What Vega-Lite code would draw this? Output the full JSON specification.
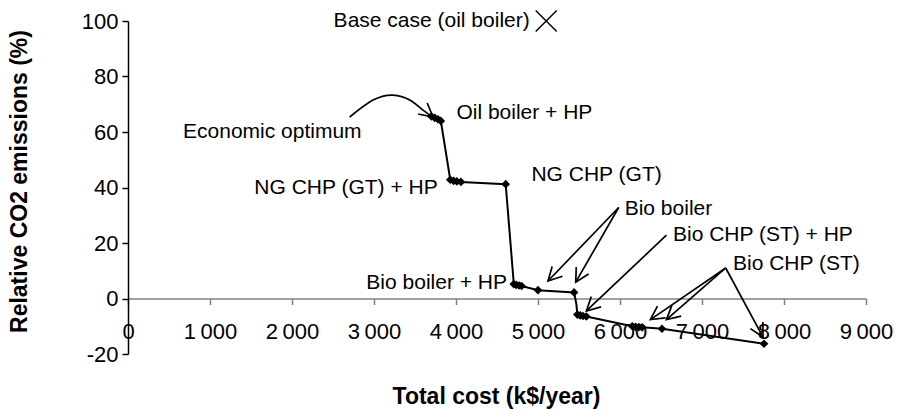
{
  "$schema": "https://vega.github.io/schema/vega-lite/v6.json",
  "width": 738,
  "height": 333,
  "autosize": {"type": "none"},
  "padding": {"left": 128, "top": 21, "right": 34, "bottom": 56},
  "config": {"view": {"stroke": null}, "font": "Liberation Sans", "text": {"font": "Liberation Sans"}, "axis": {"grid": false, "labelFont": "Liberation Sans", "titleFont": "Liberation Sans"}},
  "datasets": {
    "pts": [
      {"x": 3700, "y": 65.6, "m": 1},
      {"x": 3740, "y": 65.1, "m": 1},
      {"x": 3780, "y": 64.6, "m": 1},
      {"x": 3815, "y": 64.0, "m": 1},
      {"x": 3930, "y": 42.8, "m": 1},
      {"x": 3970, "y": 42.4, "m": 1},
      {"x": 4010, "y": 42.2, "m": 1},
      {"x": 4060, "y": 42.0, "m": 1},
      {"x": 4606, "y": 41.2, "m": 1},
      {"x": 4705, "y": 5.2, "m": 1},
      {"x": 4735, "y": 4.9, "m": 1},
      {"x": 4770, "y": 4.7, "m": 1},
      {"x": 4800, "y": 4.5, "m": 1},
      {"x": 5000, "y": 3.0, "m": 1},
      {"x": 5440, "y": 2.2, "m": 1},
      {"x": 5468, "y": -2.0, "m": 0},
      {"x": 5480, "y": -5.8, "m": 1},
      {"x": 5515, "y": -6.1, "m": 1},
      {"x": 5550, "y": -6.3, "m": 1},
      {"x": 5590, "y": -6.5, "m": 1},
      {"x": 6150, "y": -10.0, "m": 1},
      {"x": 6190, "y": -10.2, "m": 1},
      {"x": 6230, "y": -10.3, "m": 1},
      {"x": 6270, "y": -10.4, "m": 1},
      {"x": 6512, "y": -10.9, "m": 1},
      {"x": 7756, "y": -16.3, "m": 1}
    ],
    "curve": [
      {"x": 2704, "y": 65.4},
      {"x": 2988, "y": 71.5},
      {"x": 3232, "y": 73.3},
      {"x": 3435, "y": 71.5},
      {"x": 3598, "y": 67.9},
      {"x": 3720, "y": 65.4}
    ],
    "arrows": [
      {"x": 5984, "y": 32.8, "x2": 5122, "y2": 6.3},
      {"x": 5984, "y": 32.8, "x2": 5460, "y2": 5.9},
      {"x": 6566, "y": 22.8, "x2": 5590, "y2": -4.5},
      {"x": 7289, "y": 11.0, "x2": 6371, "y2": -7.6},
      {"x": 7289, "y": 11.0, "x2": 6566, "y2": -7.6},
      {"x": 7289, "y": 11.0, "x2": 7744, "y2": -13.9}
    ],
    "heads": [
      {"x": 3720, "y": 65.4, "a": 39.5},
      {"x": 5122, "y": 6.3, "a": 133.9},
      {"x": 5460, "y": 5.9, "a": 120},
      {"x": 5590, "y": -4.5, "a": 136.6},
      {"x": 6371, "y": -7.6, "a": 145.6},
      {"x": 6566, "y": -7.6, "a": 139},
      {"x": 7744, "y": -13.9, "a": 61.6}
    ],
    "labels": [
      {"x": 4899, "y": 100, "t": "Base case (oil boiler)", "al": "r"},
      {"x": 4005, "y": 66.7, "t": "Oil boiler + HP", "al": "l"},
      {"x": 671, "y": 59.9, "t": "Economic optimum", "al": "l"},
      {"x": 3777, "y": 39.9, "t": "NG CHP (GT) + HP", "al": "r"},
      {"x": 4920, "y": 44.4, "t": "NG CHP (GT)", "al": "l"},
      {"x": 6057, "y": 32.4, "t": "Bio boiler", "al": "l"},
      {"x": 6646, "y": 23.0, "t": "Bio CHP (ST) + HP", "al": "l"},
      {"x": 7378, "y": 12.6, "t": "Bio CHP (ST)", "al": "l"},
      {"x": 4622, "y": 5.7, "t": "Bio boiler + HP", "al": "r"}
    ],
    "base": [{"x": 5100, "y": 100}]
  },
  "layer": [
    {
      "data": {"name": "pts"},
      "mark": {"type": "line", "color": "black", "strokeWidth": 2, "clip": false},
      "encoding": {
        "x": {
          "field": "x", "type": "quantitative",
          "scale": {"domain": [0, 9000], "nice": false, "zero": false},
          "axis": {
            "title": "Total cost (k$/year)",
            "values": [0, 1000, 2000, 3000, 4000, 5000, 6000, 7000, 8000, 9000],
            "offset": -55.5,
            "domainColor": "#808080", "domainWidth": 1.5,
            "tickColor": "#808080", "tickWidth": 1.5, "tickSize": 6,
            "labelFontSize": 22, "labelColor": "black", "labelPadding": 17,
            "labelFlush": false, "labelOverlap": false,
            "labelExpr": "replace(format(datum.value, ','), ',', '\u2009')",
            "titleFontSize": 23, "titleFontWeight": "bold", "titleColor": "black",
            "titleX": 368, "titleY": 105, "titleBaseline": "alphabetic", "titleAlign": "center"
          }
        },
        "y": {
          "field": "y", "type": "quantitative",
          "scale": {"domain": [-20, 100], "nice": false, "zero": false},
          "axis": {
            "title": "Relative CO2 emissions (%)",
            "values": [-20, 0, 20, 40, 60, 80, 100],
            "domainColor": "black", "domainWidth": 1.5,
            "tickColor": "black", "tickWidth": 1.5, "tickSize": 6,
            "labelFontSize": 22, "labelColor": "black", "labelPadding": 4,
            "labelOverlap": false, "labelFlush": false,
            "labelExpr": "'' + datum.value",
            "titleFontSize": 23, "titleFontWeight": "bold", "titleColor": "black",
            "titleX": -109, "titleY": 160, "titleBaseline": "middle", "titleAlign": "center"
          }
        }
      }
    },
    {
      "data": {"name": "pts"},
      "transform": [{"filter": "datum.m == 1"}],
      "mark": {"type": "point", "shape": "diamond", "filled": true, "color": "black", "size": 75, "opacity": 1, "clip": false},
      "encoding": {
        "x": {"field": "x", "type": "quantitative"},
        "y": {"field": "y", "type": "quantitative"}
      }
    },
    {
      "data": {"name": "curve"},
      "mark": {"type": "line", "color": "black", "strokeWidth": 1.7, "interpolate": "natural", "clip": false},
      "encoding": {
        "x": {"field": "x", "type": "quantitative"},
        "y": {"field": "y", "type": "quantitative"}
      }
    },
    {
      "data": {"name": "arrows"},
      "mark": {"type": "rule", "color": "black", "strokeWidth": 1.7},
      "encoding": {
        "x": {"field": "x", "type": "quantitative"},
        "y": {"field": "y", "type": "quantitative"},
        "x2": {"field": "x2"},
        "y2": {"field": "y2"}
      }
    },
    {
      "data": {"name": "heads"},
      "mark": {"type": "point", "shape": "M-1,-0.53L0,0L-1,0.53", "filled": false, "color": "black", "strokeWidth": 1.7, "size": 720, "opacity": 1},
      "encoding": {
        "x": {"field": "x", "type": "quantitative"},
        "y": {"field": "y", "type": "quantitative"},
        "angle": {"field": "a", "type": "quantitative", "scale": null}
      }
    },
    {
      "data": {"name": "base"},
      "mark": {"type": "point", "shape": "M-1,-1L1,1M-1,1L1,-1", "filled": false, "color": "black", "strokeWidth": 1.5, "size": 441, "opacity": 1, "clip": false},
      "encoding": {
        "x": {"field": "x", "type": "quantitative"},
        "y": {"field": "y", "type": "quantitative"}
      }
    },
    {
      "data": {"name": "labels"},
      "transform": [{"filter": "datum.al == 'l'"}],
      "mark": {"type": "text", "align": "left", "baseline": "middle", "fontSize": 21, "font": "Liberation Sans", "color": "black"},
      "encoding": {
        "x": {"field": "x", "type": "quantitative"},
        "y": {"field": "y", "type": "quantitative"},
        "text": {"field": "t"}
      }
    },
    {
      "data": {"name": "labels"},
      "transform": [{"filter": "datum.al == 'r'"}],
      "mark": {"type": "text", "align": "right", "baseline": "middle", "fontSize": 21, "font": "Liberation Sans", "color": "black"},
      "encoding": {
        "x": {"field": "x", "type": "quantitative"},
        "y": {"field": "y", "type": "quantitative"},
        "text": {"field": "t"}
      }
    }
  ]
}
